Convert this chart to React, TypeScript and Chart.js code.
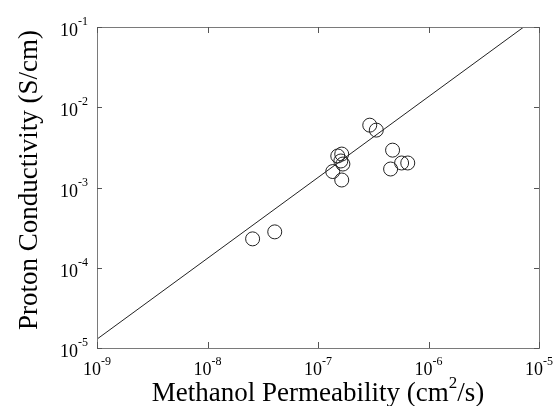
import React, { useEffect, useRef } from 'react';
import { Chart, registerables } from 'chart.js';
Chart.register(...registerables);

const permeability = [2.56e-8, 4.06e-8, 1.36e-7, 1.51e-7, 1.64e-7, 1.61e-7, 1.68e-7, 1.64e-7, 2.94e-7, 3.37e-7, 4.73e-7, 4.54e-7, 5.71e-7, 6.49e-7];
const conductivity = [2.29e-4, 2.8e-4, 1.58e-3, 2.47e-3, 2.61e-3, 2.14e-3, 1.96e-3, 1.24e-3, 5.98e-3, 5.19e-3, 2.92e-3, 1.7e-3, 2.02e-3, 2.02e-3];
const trendX = [1e-9, 7.28e-6];
const trendY = [1.29e-5, 1e-1];
const xTickExps = [-9, -8, -7, -6, -5];
const yTickExps = [-5, -4, -3, -2, -1];
const xTitle = 'Methanol Permeability (cm';
const xTitleSup = '2';
const xTitleEnd = '/s)';
const yTitle = 'Proton Conductivity (S/cm)';

const FONT = "'Liberation Serif', 'Times New Roman', serif";

const decoPlugin = {
  id: 'deco',
  afterDraw(chart: any) {
    const { ctx, chartArea, scales } = chart;
    const { left, right, top, bottom } = chartArea;
    ctx.save();
    ctx.strokeStyle = '#7a7a7a';
    ctx.lineWidth = 1;
    ctx.strokeRect(left + 0.5, top + 0.5, right - left, bottom - top);
    ctx.strokeStyle = '#555';
    ctx.beginPath();
    xTickExps.forEach((e) => {
      const px = Math.round(scales.x.getPixelForValue(Math.pow(10, e))) + 0.5;
      ctx.moveTo(px, bottom);
      ctx.lineTo(px, bottom - 6);
      ctx.moveTo(px, top);
      ctx.lineTo(px, top + 6);
    });
    yTickExps.forEach((e) => {
      const py = Math.round(scales.y.getPixelForValue(Math.pow(10, e))) + 0.5;
      ctx.moveTo(left, py);
      ctx.lineTo(left + 5, py);
      ctx.moveTo(right, py);
      ctx.lineTo(right - 5, py);
    });
    ctx.stroke();

    ctx.fillStyle = '#000';
    ctx.textBaseline = 'alphabetic';
    ctx.textAlign = 'left';
    const baseFont = `18px ${FONT}`;
    const supFont = `12px ${FONT}`;
    xTickExps.forEach((e) => {
      const px = scales.x.getPixelForValue(Math.pow(10, e));
      const sup = '-' + Math.abs(e);
      ctx.font = baseFont;
      const wb = ctx.measureText('10').width;
      ctx.font = supFont;
      const ws = ctx.measureText(sup).width;
      const start = px - (wb + ws) / 2;
      ctx.font = baseFont;
      ctx.fillText('10', start, 375);
      ctx.font = supFont;
      ctx.fillText(sup, start + wb, 365);
    });
    yTickExps.forEach((e) => {
      const py = scales.y.getPixelForValue(Math.pow(10, e));
      const sup = '-' + Math.abs(e);
      ctx.font = baseFont;
      const wb = ctx.measureText('10').width;
      ctx.font = supFont;
      const ws = ctx.measureText(sup).width;
      const end = left - 9;
      ctx.font = baseFont;
      ctx.fillText('10', end - ws - wb, py + 9);
      ctx.font = supFont;
      ctx.fillText(sup, end - ws, py - 2);
    });

    // x title
    const tFont = `27px ${FONT}`;
    const tSup = `17px ${FONT}`;
    ctx.font = tFont;
    const w1 = ctx.measureText(xTitle).width;
    const w3 = ctx.measureText(xTitleEnd).width;
    ctx.font = tSup;
    const w2 = ctx.measureText(xTitleSup).width;
    const cx = (left + right) / 2;
    const sx = cx - (w1 + w2 + w3) / 2;
    ctx.font = tFont;
    ctx.fillText(xTitle, sx, 401);
    ctx.font = tSup;
    ctx.fillText(xTitleSup, sx + w1, 388);
    ctx.font = tFont;
    ctx.fillText(xTitleEnd, sx + w1 + w2, 401);

    // y title
    ctx.translate(37, 180);
    ctx.rotate(-Math.PI / 2);
    ctx.textAlign = 'center';
    ctx.font = `27px ${FONT}`;
    ctx.fillText(yTitle, 0, 0);
    ctx.restore();
  },
};

export default function App() {
  const ref = useRef<HTMLCanvasElement>(null);
  useEffect(() => {
    document.body.style.margin = '0';
    const pts = permeability.map((x, i) => ({ x, y: conductivity[i] }));
    const line = trendX.map((x, i) => ({ x, y: trendY[i] }));
    const chart = new Chart(ref.current as HTMLCanvasElement, {
      type: 'scatter',
      data: {
        datasets: [
          {
            data: line,
            showLine: true,
            borderColor: '#222',
            borderWidth: 1,
            pointRadius: 0,
          } as any,
          {
            data: pts,
            pointRadius: 7,
            pointHoverRadius: 7,
            pointStyle: 'circle',
            borderColor: '#222',
            borderWidth: 1,
            backgroundColor: 'rgba(0,0,0,0)',
          },
        ],
      },
      options: {
        responsive: false,
        animation: false,
        layout: { padding: { top: 27, right: 18, left: 0, bottom: 0 } },
        plugins: { legend: { display: false }, tooltip: { enabled: false } },
        scales: {
          x: {
            type: 'logarithmic',
            min: 1e-9,
            max: 1e-5,
            ticks: { display: false },
            grid: { display: false },
            border: { display: false },
            afterFit: (s: any) => { s.height = 58; },
          },
          y: {
            type: 'logarithmic',
            min: 1e-5,
            max: 1e-1,
            ticks: { display: false },
            grid: { display: false },
            border: { display: false },
            afterFit: (s: any) => { s.width = 97; },
          },
        },
      },
      plugins: [decoPlugin],
    });
    return () => chart.destroy();
  }, []);
  return (
    <div style={{ width: 557, height: 406, background: '#fff' }}>
      <canvas ref={ref} width={557} height={406} />
    </div>
  );
}
